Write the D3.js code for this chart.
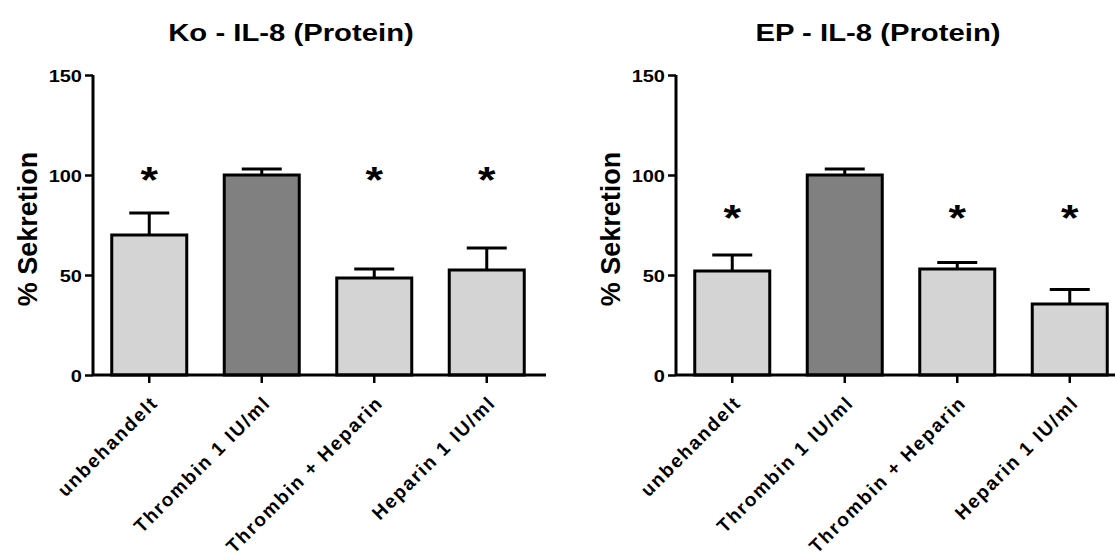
<!DOCTYPE html>
<html>
<head>
<meta charset="utf-8">
<script src="https://cdn.jsdelivr.net/npm/d3@7"></script>
<style>
  html, body { margin: 0; padding: 0; background: #fff; }
  svg { display: block; }
  text { font-family: "Liberation Sans", Arial, sans-serif; font-weight: bold; fill: #000; }
</style>
</head>
<body>
<svg id="chart" width="1115" height="553"></svg>
<script>
// Treatment groups (shared by both panels)
const categories = ["unbehandelt", "Thrombin 1 IU/ml", "Thrombin + Heparin", "Heparin 1 IU/ml"];
const yTicks = [0, 50, 100, 150];

// Panel A: Ko - IL-8 (Protein), % secretion relative to thrombin
const koTitle = "Ko - IL-8 (Protein)";
const koMeans = [70, 100, 48.5, 52.5];
const koErrors = [11, 3, 4.5, 11];
const koSignificant = [true, false, true, true];

// Panel B: EP - IL-8 (Protein)
const epTitle = "EP - IL-8 (Protein)";
const epMeans = [52, 100, 53, 35.5];
const epErrors = [8, 3, 3.3, 7.2];
const epSignificant = [true, false, true, true];

const barColors = ["#d4d4d4", "#808080", "#d4d4d4", "#d4d4d4"];

const svg = d3.select("#chart");

function panel(opts) {
  const g = svg.append("g");
  const x0 = opts.axisX;
  const step = 112.5;

  const x = d3.scaleBand()
    .domain(categories)
    .range([x0, x0 + step * categories.length])
    .paddingInner(1/3)
    .paddingOuter(1/6);

  const y = d3.scaleLinear().domain([0, 150]).range([375, 75]);

  const data = categories.map((c, i) => ({
    cat: c, mean: opts.means[i], err: opts.errors[i], sig: opts.sig[i], color: barColors[i]
  }));

  // Upper error whiskers
  const cap = 40;
  data.forEach(d => {
    const cx = x(d.cat) + x.bandwidth() / 2;
    g.append("line")
      .attr("x1", cx).attr("x2", cx)
      .attr("y1", y(d.mean)).attr("y2", y(d.mean + d.err))
      .attr("stroke", "#000").attr("stroke-width", 3);
    g.append("line")
      .attr("x1", cx - cap / 2).attr("x2", cx + cap / 2)
      .attr("y1", y(d.mean + d.err)).attr("y2", y(d.mean + d.err))
      .attr("stroke", "#000").attr("stroke-width", 3);
  });

  // Bars
  g.selectAll("rect.bar").data(data).join("rect")
    .attr("class", "bar")
    .attr("x", d => x(d.cat))
    .attr("width", x.bandwidth())
    .attr("y", d => y(d.mean))
    .attr("height", d => y(0) - y(d.mean))
    .attr("fill", d => d.color)
    .attr("stroke", "#000")
    .attr("stroke-width", 3);

  // Significance marks
  g.selectAll("text.sig").data(data.filter(d => d.sig)).join("text")
    .attr("class", "sig")
    .attr("transform", d => `translate(${x(d.cat) + x.bandwidth() / 2},${y(opts.starValue) + 20}) scale(1.25,1)`)
    .attr("text-anchor", "middle")
    .style("font-size", "36px")
    .text("*");

  // Y axis
  const yAxis = d3.axisLeft(y).tickValues(yTicks).tickSize(8).tickPadding(3).tickSizeOuter(0);
  const ya = g.append("g").attr("transform", `translate(${x0},0)`).call(yAxis);
  ya.select(".domain").attr("stroke-width", 3).attr("d", `M0,${y(150)}V${y(0)}`);
  ya.selectAll(".tick line").attr("stroke-width", 2.5);
  ya.selectAll(".tick text").remove();
  ya.selectAll(".tick").append("text")
    .attr("transform", "translate(-11,6) scale(1.25,1)")
    .attr("text-anchor", "end")
    .style("font-size", "16px")
    .text(d => d);

  // X axis
  const xAxis = d3.axisBottom(x).tickSize(8).tickSizeOuter(0);
  const xa = g.append("g").attr("transform", `translate(0,${y(0)})`).call(xAxis);
  xa.select(".domain").attr("stroke-width", 3).attr("d", `M${x0},0H${x0 + step * 4 + 3}`);
  xa.selectAll(".tick line").attr("stroke-width", 2.5);
  xa.selectAll(".tick text").remove();
  xa.selectAll(".tick").append("text")
    .attr("transform", "translate(10,29) rotate(-45)")
    .attr("text-anchor", "end")
    .style("font-size", "19px")
    .style("letter-spacing", "1.8px")
    .text(d => d);

  // Y axis title
  g.append("text")
    .attr("transform", `translate(${x0 - 56},${(y(0) + y(150)) / 2 + 4}) rotate(-90)`)
    .attr("text-anchor", "middle")
    .style("font-size", "27px")
    .text("% Sekretion");

  // Panel title
  g.append("text")
    .attr("transform", `translate(${opts.titleX},41) scale(1.22,1)`)
    .attr("text-anchor", "middle")
    .style("font-size", "24px")
    .text(opts.title);
}

panel({ axisX: 93, title: koTitle, titleX: 291, means: koMeans, errors: koErrors, sig: koSignificant, starValue: 101 });
panel({ axisX: 676, title: epTitle, titleX: 878, means: epMeans, errors: epErrors, sig: epSignificant, starValue: 82 });
</script>
</body>
</html>
